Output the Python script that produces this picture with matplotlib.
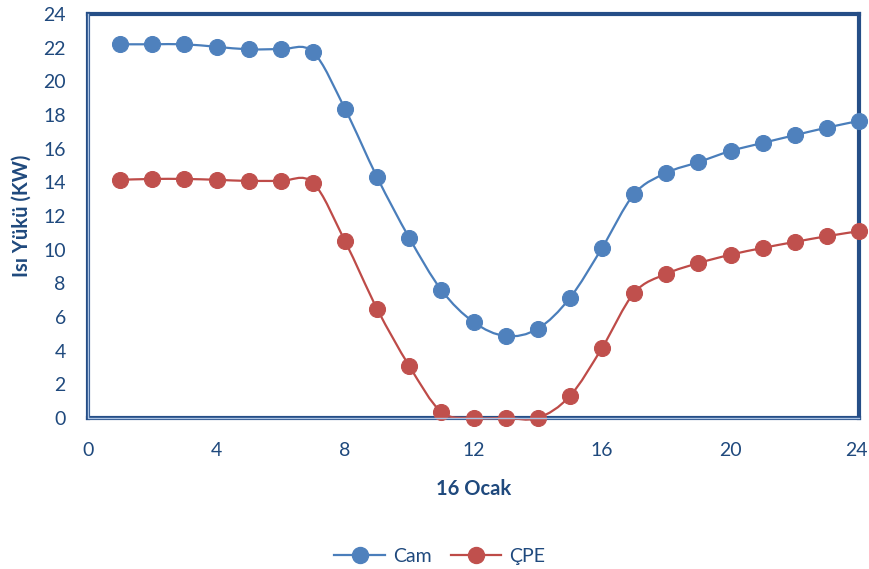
import numpy as np
import matplotlib.pyplot as plt
import matplotlib.transforms as mtransforms
from matplotlib.path import Path
from matplotlib.patches import PathPatch
from matplotlib.lines import Line2D

# Hourly heat load on 16 January, glass vs. PE greenhouse cover
hours = list(range(1, 25))
cam = [22.2, 22.2, 22.2, 22.05, 21.9, 21.9, 21.75, 18.36, 14.3, 10.7,
       7.6, 5.7, 4.87, 5.3, 7.13, 10.1, 13.3, 14.56, 15.2, 15.86,
       16.34, 16.8, 17.25, 17.65]
cpe = [14.15, 14.2, 14.2, 14.15, 14.08, 14.08, 13.98, 10.5, 6.48, 3.09,
       0.36, 0.0, 0.0, 0.0, 1.3, 4.16, 7.43, 8.56, 9.2, 9.7,
       10.1, 10.46, 10.8, 11.1]
series_names = ["Cam", "ÇPE"]

BLUE = "#4A7EBB"
BLUE_FACE = "#4F81BD"
RED = "#BE4B48"
RED_FACE = "#C0504D"
TEXT = "#1F497D"
FRAME = "#254E87"
FRAME_LIGHT = "#A9C2E3"

plt.rcParams['font.family'] = ['Lato', 'DejaVu Sans']


def smooth_path(x, y):
    """Catmull-Rom style bezier path through the points (like a smoothed line)."""
    x = np.asarray(x, float)
    y = np.asarray(y, float)
    verts = [(x[0], y[0])]
    codes = [Path.MOVETO]
    n = len(x)
    for i in range(n - 1):
        x0, y0 = (x[i - 1], y[i - 1]) if i > 0 else (x[i], y[i])
        x3, y3 = (x[i + 2], y[i + 2]) if i + 2 < n else (x[i + 1], y[i + 1])
        c1 = (x[i] + (x[i + 1] - x0) / 6, y[i] + (y[i + 1] - y0) / 6)
        c2 = (x[i + 1] - (x3 - x[i]) / 6, y[i + 1] - (y3 - y[i]) / 6)
        verts += [c1, c2, (x[i + 1], y[i + 1])]
        codes += [Path.CURVE4] * 3
    return Path(verts, codes)


fig = plt.figure(figsize=(8.69, 5.69), dpi=100)
ax = fig.add_axes([0.1013, 0.2654, 0.8872, 0.71])

for vals, lc, fc in [(cam, BLUE, BLUE_FACE), (cpe, RED, RED_FACE)]:
    ax.add_patch(PathPatch(smooth_path(hours, vals), facecolor="none",
                           edgecolor=lc, lw=1.6, zorder=3, clip_on=False))
    ax.plot(hours, vals, ls="none", marker="o", ms=11.5, mfc=fc,
            mec=fc, mew=0.8, zorder=4, clip_on=False)

ax.set_xlim(0, 24)
ax.set_ylim(0, 24)
ax.set_xticks(range(0, 25, 4))
ax.set_yticks(range(0, 25, 2))
ax.tick_params(length=0, labelsize=14, labelcolor=TEXT)
ax.tick_params(axis="y", pad=16)
ax.tick_params(axis="x", pad=17)

# keep the last x label inside the figure
last = ax.get_xticklabels()[-1]
last.set_transform(last.get_transform() +
                   mtransforms.ScaledTranslation(-2 / 72, 0, fig.dpi_scale_trans))

for side in ["top", "right", "left", "bottom"]:
    ax.spines[side].set_color(FRAME)
    ax.spines[side].set_linewidth(3.0)
# lighter inner stripe on the left and bottom axis lines
ax.add_line(Line2D([0, 0, 1], [1, 0, 0], transform=ax.transAxes,
                   color=FRAME_LIGHT, lw=1.0, clip_on=False, zorder=5))

ax.set_xlabel("16 Ocak", fontsize=14.5, fontweight="bold", color=TEXT,
              labelpad=15)
ax.set_ylabel("Isı Yükü (KW)", fontsize=14.5, fontweight="bold", color=TEXT,
              labelpad=8)

handles = [
    Line2D([], [], color=BLUE, lw=1.6, marker="o", ms=11.5, mfc=BLUE_FACE,
           mec=BLUE_FACE),
    Line2D([], [], color=RED, lw=1.6, marker="o", ms=11.5, mfc=RED_FACE,
           mec=RED_FACE),
]
fig.legend(handles, series_names, loc="center", ncol=2, frameon=False,
           bbox_to_anchor=(0.506, 0.022), fontsize=14, labelcolor=TEXT,
           handlelength=2.6, columnspacing=1.0, handletextpad=0.4)

fig.savefig("out.png", dpi=100)
